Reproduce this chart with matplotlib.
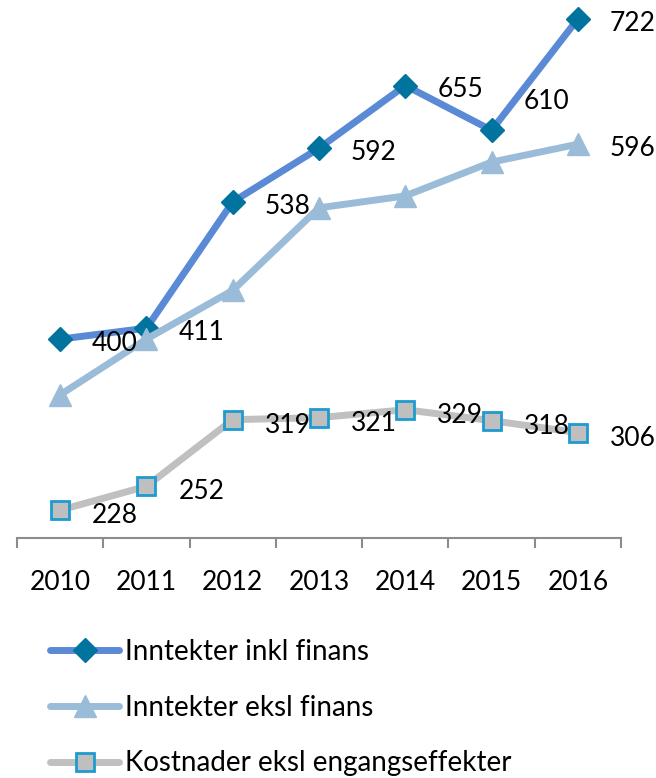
import matplotlib
matplotlib.use('Agg')
import matplotlib.pyplot as plt

# Data
years = ['2010', '2011', '2012', '2013', '2014', '2015', '2016']
inkl_finans = [400, 411, 538, 592, 655, 610, 722]
eksl_finans = [344, 400, 449, 532, 544, 578, 596]
kostnader = [228, 252, 319, 321, 329, 318, 306]
series_names = ['Inntekter inkl finans', 'Inntekter eksl finans',
                'Kostnader eksl engangseffekter']

plt.rcParams['font.family'] = ['Lato', 'DejaVu Sans']

fig = plt.figure(figsize=(6.56, 7.78), dpi=100)
W, H = 656.0, 778.0
ax = fig.add_axes([17 / W, 1 - 538 / H, 604 / W, 538 / H])

xs = list(range(len(years)))
l1, = ax.plot(xs, inkl_finans, color='#5A8AD6', lw=5, marker='D', ms=12,
              mfc='#00739E', mec='#00739E', solid_capstyle='round')
l2, = ax.plot(xs, eksl_finans, color='#9BBCD8', lw=5, marker='^', ms=16,
              mfc='#9BBCD8', mec='#9BBCD8', solid_capstyle='round')
l3, = ax.plot(xs, kostnader, color='#C0C0C0', lw=5, marker='s', ms=13,
              mfc='#BFBFBF', mec='#1E9BD0', mew=2, solid_capstyle='round')

# Data labels (offsets in points, right of the marker)
fs = 19
for i, v in enumerate(inkl_finans):
    dy = -3
    if i == 5:
        dy = 21
    ax.annotate(str(v), (i, v), xytext=(23, dy), textcoords='offset points',
                ha='left', va='center', fontsize=fs, color='black')
ax.annotate(str(eksl_finans[-1]), (6, eksl_finans[-1]), xytext=(23, -3),
            textcoords='offset points', ha='left', va='center', fontsize=fs)
for i, v in enumerate(kostnader):
    ax.annotate(str(v), (i, v), xytext=(23, -4), textcoords='offset points',
                ha='left', va='center', fontsize=fs, color='black')

ax.set_xlim(-0.5, 6.5)
ax.set_ylim(200, 741)
ax.set_yticks([])
for s in ['top', 'right', 'left']:
    ax.spines[s].set_visible(False)
ax.spines['bottom'].set_color('#8C8C8C')
ax.spines['bottom'].set_linewidth(1.5)

ax.set_xticks([x - 0.5 for x in range(len(years) + 1)])
ax.set_xticklabels([])
ax.set_xticks(xs, minor=True)
ax.set_xticklabels(years, minor=True, fontsize=fs)
ax.tick_params(axis='x', which='major', length=7, width=1.5, color='#8C8C8C',
               direction='out')
ax.tick_params(axis='x', which='minor', length=0, pad=23)

fig.legend([l1, l2, l3], series_names, loc='upper left',
           bbox_to_anchor=(50 / W, 1 - 639 / H), frameon=False, fontsize=20,
           handlelength=2.5, handletextpad=0.2, labelspacing=1.07,
           borderpad=0, borderaxespad=0)

fig.savefig('out.png', dpi=100)
